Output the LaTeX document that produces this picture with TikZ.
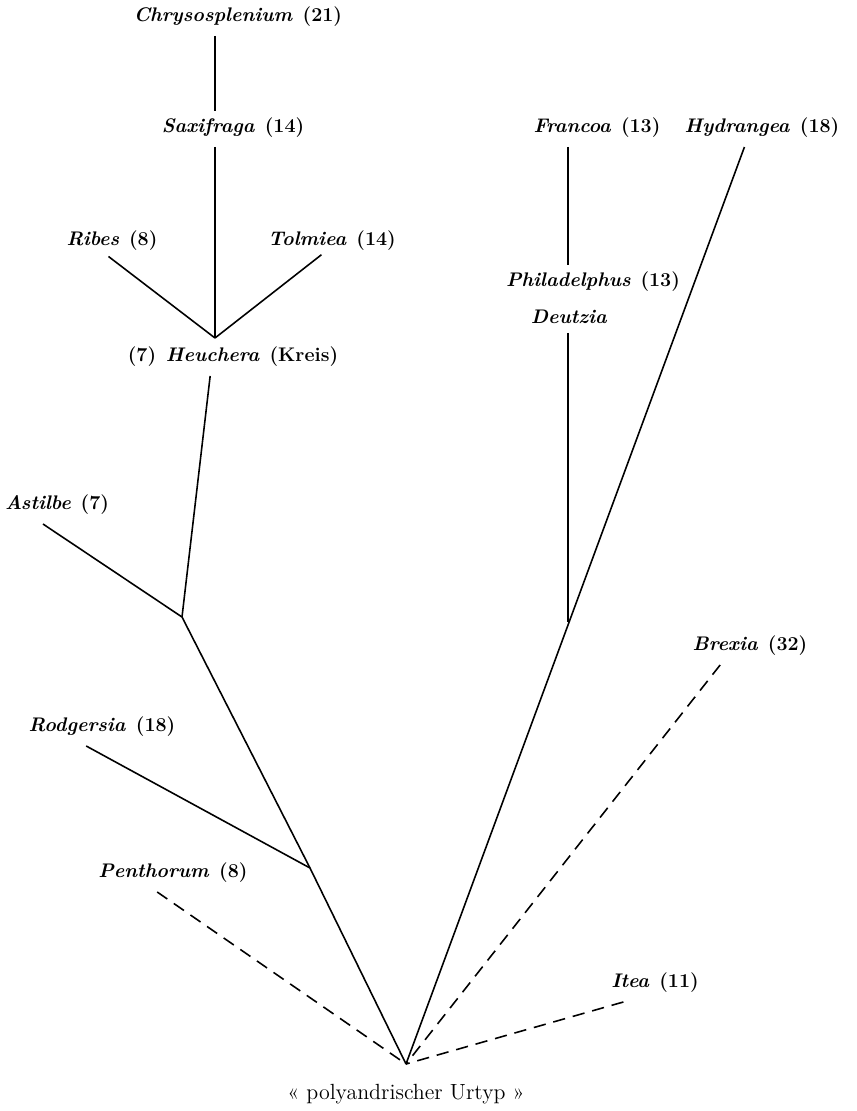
\documentclass[tikz,border=0pt]{standalone}
\usepackage{tikz}
\usetikzlibrary{positioning}

\newcommand{\gap}{\hspace{0.5em}}

\begin{document}
\begin{tikzpicture}[x=0.02cm, y=-0.02cm,
            taxon/.style={font=\bfseries\fontsize{11.2}{13}\selectfont, inner sep=1pt},
            branch/.style={line width=0.9pt},
            unsure/.style={branch, dash pattern=on 7pt off 4.5pt}]

            \useasboundingbox (0,0) rectangle (856,1111);

            % linker Ast
            \node[taxon] (chryso) at (238,17) {\textit{Chrysosplenium}\gap(21)};
            \node[taxon] (saxi) at (233,128) {\textit{Saxifraga}\gap(14)};
            \node[taxon] (ribes) at (112,241) {\textit{Ribes}\gap(8)};
            \node[taxon] (tolmiea) at (332,241) {\textit{Tolmiea}\gap(14)};
            \node[taxon] (heuchera) at (233,357) {(7)\gap\textit{Heuchera}\gap(Kreis)};
            \node[taxon] (astilbe) at (57,505) {\textit{Astilbe}\gap(7)};
            \node[taxon] (rodgersia) at (102,727) {\textit{Rodgersia}\gap(18)};
            \node[taxon] (penthorum) at (173,873) {\textit{Penthorum}\gap(8)};

            % rechter Ast
            \node[taxon] (francoa) at (597,128) {\textit{Francoa}\gap(13)};
            \node[taxon] (hydrangea) at (762,128) {\textit{Hydrangea}\gap(18)};
            \node[taxon] (phila) at (593,282) {\textit{Philadelphus}\gap(13)};
            \node[taxon] (deutzia) at (569,317) {\textit{Deutzia}};
            \node[taxon] (brexia) at (750,646) {\textit{Brexia}\gap(32)};
            \node[taxon] (itea) at (655,983) {\textit{Itea}\gap(11)};

            \node[font=\fontsize{12.5}{15}\selectfont] (urtyp) at (406,1094) {\guillemotleft\ polyandrischer\ Urtyp\ \guillemotright};

            % Verzweigungen
            \coordinate (hj) at (215,338);
            \coordinate (aj) at (182,617);
            \coordinate (rj) at (310,868);
            \coordinate (fj) at (568,622);
            \coordinate (root) at (406,1064);

            \draw[branch] ([yshift=-4pt]chryso.south -| hj) -- ([yshift=3pt]saxi.north -| hj);
            \draw[branch] ([yshift=-4pt]saxi.south -| hj) -- (hj);
            \draw[branch] ([xshift=-2pt,yshift=-2pt]ribes.south) -- (hj);
            \draw[branch] ([xshift=-6pt,yshift=-1pt]tolmiea.south) -- (hj);
            \draw[branch] ([xshift=-13pt,yshift=-4pt]heuchera.south) -- (aj);
            \draw[branch] ([xshift=-8pt,yshift=-4pt]astilbe.south) -- (aj);
            \draw[branch] (aj) -- (rj);
            \draw[branch] ([xshift=-9pt,yshift=-4pt]rodgersia.south) -- (rj);
            \draw[branch] (rj) -- (root);
            \draw[unsure] ([xshift=-9pt,yshift=-4pt]penthorum.south) -- (root);

            \draw[branch] ([yshift=-4pt]francoa.south -| fj) -- ([yshift=3pt]phila.north -| fj);
            \draw[branch] ([yshift=-4pt]deutzia.south -| fj) -- (fj);
            \draw[branch] ([xshift=-10pt,yshift=-4pt]hydrangea.south) -- (root);
            \draw[unsure] ([xshift=-17pt,yshift=-4pt]brexia.south) -- (root);
            \draw[unsure] ([xshift=-18pt,yshift=-4pt]itea.south) -- (root);
        \end{tikzpicture}
\end{document}
